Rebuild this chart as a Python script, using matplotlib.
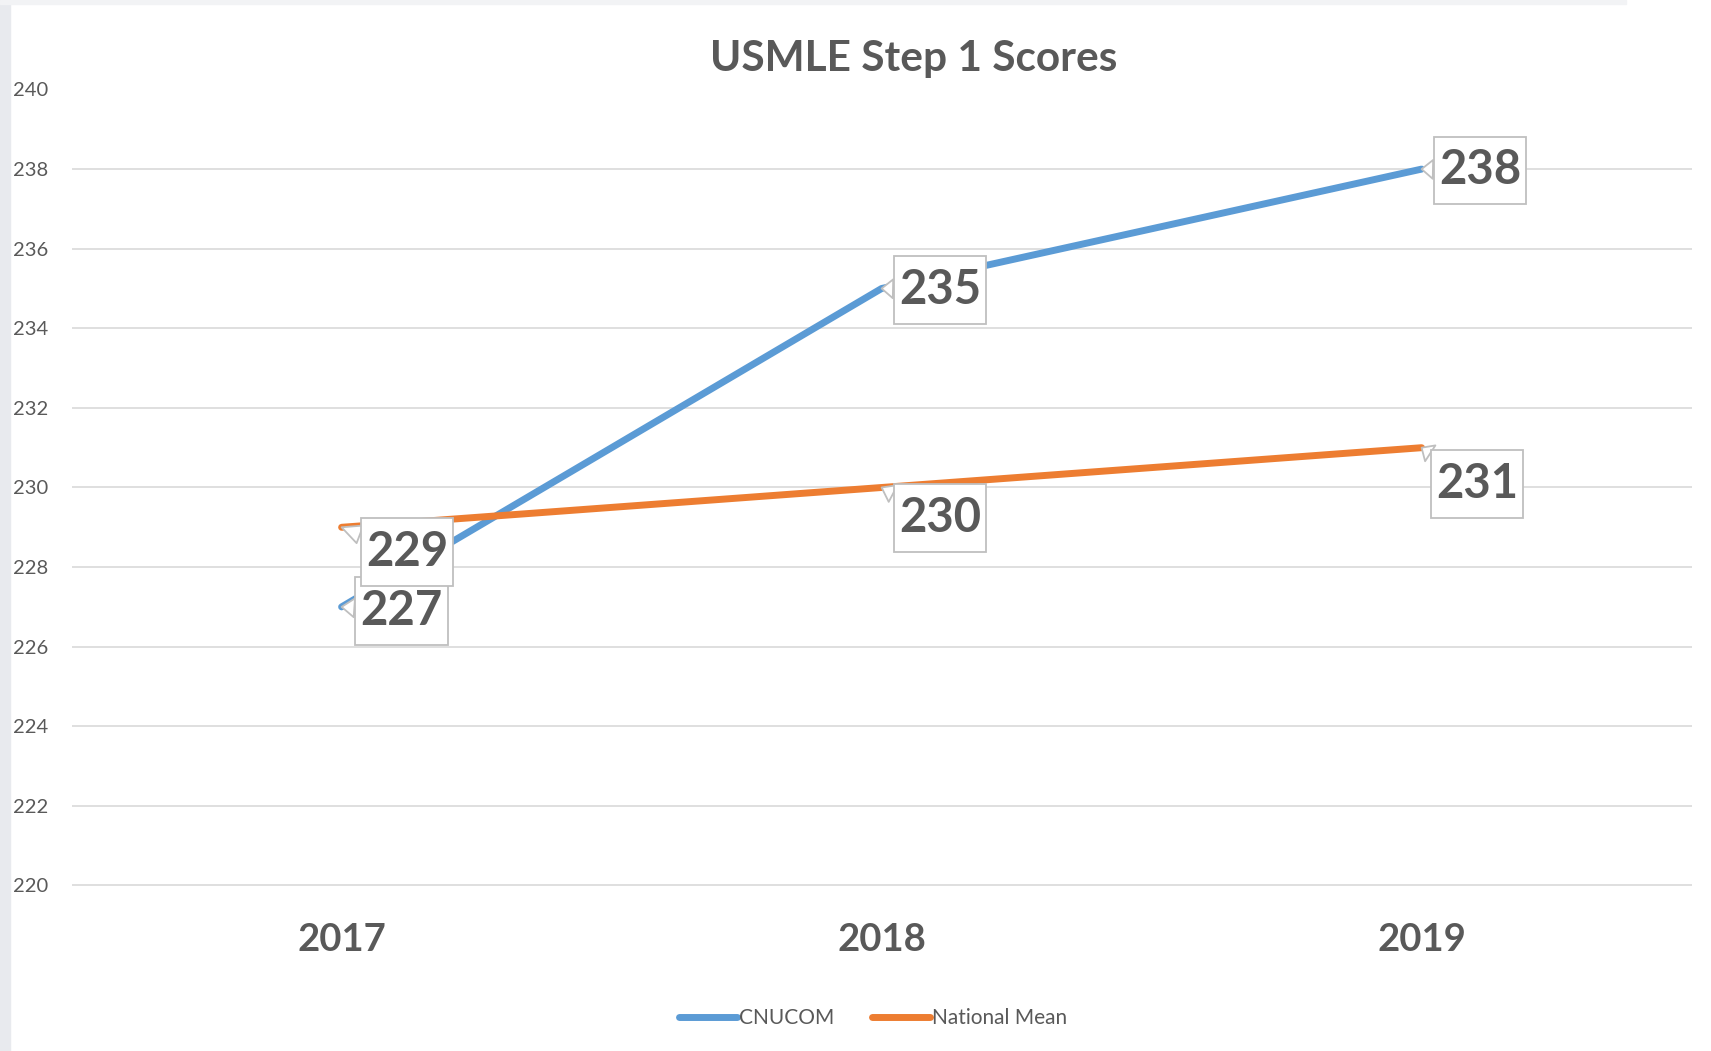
import matplotlib.pyplot as plt
from matplotlib.patches import Rectangle
from matplotlib.path import Path

years = ["2017", "2018", "2019"]
cnucom = [227, 235, 238]
national_mean = [229, 230, 231]
y_ticks = [220, 222, 224, 226, 228, 230, 232, 234, 236, 238, 240]

# label offsets (points) for the callout boxes
cnucom_offsets = [(43, -3), (42, -1), (42, -1)]
national_offsets = [(47, -18), (42, -22), (40, -26)]

BLUE = "#5B9BD5"
ORANGE = "#ED7D31"
TEXT = "#595959"
GRID = "#D9D9D9"

plt.rcParams["font.family"] = ["Lato", "DejaVu Sans"]

fig = plt.figure(figsize=(17.11, 10.51), dpi=100)
fig.patch.set_facecolor("white")
# light grey frame on the left and top edges
fig.patches.append(Rectangle((0, 0), 10 / 1711, 1, transform=fig.transFigure,
                             color="#E8EAEE", zorder=0))
fig.patches.append(Rectangle((0, 1 - 4 / 1051), 1626 / 1711, 4 / 1051,
                             transform=fig.transFigure, color="#F2F3F5", zorder=0))

ax = fig.add_axes([71.6 / 1711, 1 - 885.5 / 1051, 1620 / 1711, 796 / 1051])
x = range(len(years))

ax.plot(x, cnucom, color=BLUE, lw=5, solid_capstyle="round", label="CNUCOM", zorder=2)
ax.plot(x, national_mean, color=ORANGE, lw=5, solid_capstyle="round",
        label="National Mean", zorder=2)

ax.set_xlim(-0.5, 2.5)
ax.set_ylim(220, 240)
ax.set_yticks(y_ticks)
ax.set_xticks(list(x))
ax.set_xticklabels(years, fontsize=27.5, fontweight="bold", color=TEXT)
ax.tick_params(axis="y", labelsize=14.5, labelcolor=TEXT, length=0, pad=17)
ax.tick_params(axis="x", length=0, pad=27)
ax.grid(axis="y", color=GRID, lw=1.2)
ax.set_axisbelow(True)
for s in ax.spines.values():
    s.set_visible(False)


def label_box(x0, y0, width, height, mutation_size):
    # rectangle with more vertical than horizontal padding, like Excel's label boxes
    px = 0.11 * mutation_size
    py = 0.25 * mutation_size
    x1, y1 = x0 - px, y0 - py
    x2, y2 = x0 + width + px, y0 + height + py
    return Path([(x1, y1), (x2, y1), (x2, y2), (x1, y2), (x1, y1)], closed=True)


def callout(xi, yi, off):
    ax.annotate(str(yi), xy=(xi, yi), xytext=off, textcoords="offset points",
                ha="center", va="center", fontsize=34, fontweight="bold", color=TEXT,
                bbox=dict(boxstyle=label_box, fc="white", ec="#BFBFBF", lw=1.3),
                arrowprops=dict(arrowstyle="wedge,tail_width=0.4", fc="white",
                                ec="#BFBFBF", lw=1.3, shrinkA=0, shrinkB=0),
                zorder=4)


for xi, yi, off in zip(x, cnucom, cnucom_offsets):
    callout(xi, yi, off)
for xi, yi, off in zip(x, national_mean, national_offsets):
    callout(xi, yi, off)

fig.text(914 / 1711, 1 - 59 / 1051, "USMLE Step 1 Scores", ha="center", va="center",
         fontsize=30.5, fontweight="bold", color=TEXT)

leg = fig.legend(loc="center", bbox_to_anchor=(873 / 1711, 1 - 1018 / 1051), ncol=2,
                 frameon=False, fontsize=15, handlelength=2.8, handletextpad=0.1,
                 columnspacing=1.8)
for t in leg.get_texts():
    t.set_color(TEXT)

fig.savefig("out.png", dpi=100)
